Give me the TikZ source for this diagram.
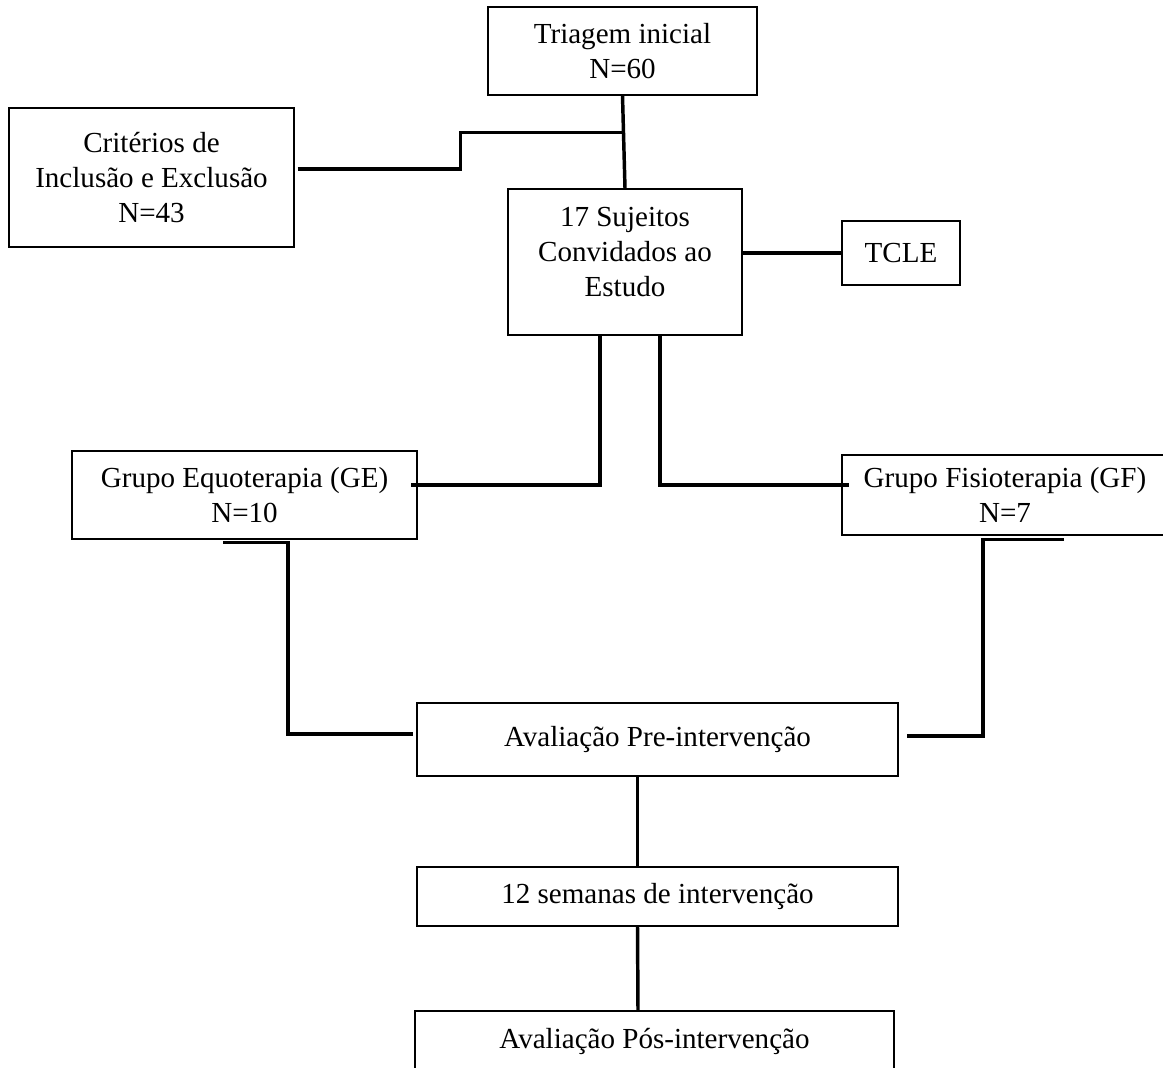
\documentclass[tikz,border=0pt]{standalone}
\usepackage{fontspec}
\setmainfont{Liberation Serif}
\usetikzlibrary{calc}

\begin{document}
\begin{tikzpicture}[x=0.75pt,y=-0.75pt,
        caixa/.style 2 args={draw,line width=0.9pt,align=center,inner sep=2pt,
            minimum width=#1*0.75pt,minimum height=#2*0.75pt,
            font=\fontsize{21.8}{26.2}\selectfont},
        liga/.style={line width=2.6pt}]
        % area da figura
        \useasboundingbox (0,0) rectangle (1163,1067);

        % caixas
        \node[caixa={269}{88}] (triagem) at (622.5,51) {Triagem inicial\\N=60};
        \node[caixa={285}{139}] (criterios) at (151.5,177.5) {Critérios de\\Inclusão e Exclusão\\N=43};
        \node[caixa={234}{146}] (sujeitos) at (625,262) {17 Sujeitos\\Convidados ao\\Estudo\\[-19pt]\strut};
        \node[caixa={118}{64}] (tcle) at (901,253) {TCLE};
        \node[caixa={345}{88}] (ge) at (244.5,495) {Grupo Equoterapia (GE)\\N=10};
        \node[caixa={326}{80}] (gf) at (1005,495) {Grupo Fisioterapia (GF)\\N=7};
        \node[caixa={481}{73}] (pre) at (657.5,739.5) {Avaliação Pre-intervenção};
        \node[caixa={481}{59}] (semanas) at (657.5,896.5) {12 semanas de intervenção};
        \node[caixa={479}{60}] (pos) at (654.5,1041) {Avaliação Pós-intervenção};

        % ligacoes
        \coordinate (juncao) at ($(triagem.south)!0.4!(sujeitos.north)$);
        \draw[liga] (triagem.south) -- (sujeitos.north);
        \draw[liga] ($(criterios.east)+(3,-8.5)$) -- ++(163,0) |- (juncao);
        \draw[liga] (tcle.west -| sujeitos.east) -- (tcle.west);
        \draw[liga] ($(sujeitos.south)+(-25,0)$) |- ($(ge.east)+(-7,-10)$);
        \draw[liga] ($(sujeitos.south)+(35,0)$) |- ($(gf.west)+(8,-10)$);
        \draw[liga] ($(ge.south)+(-21.5,3)$) -- ++(65,0) |- ($(pre.west)+(-3,-5.5)$);
        \draw[liga] ($(gf.south)+(59,4)$) -- ++(-81,0) |- ($(pre.east)+(8,-3.5)$);
        \draw[liga] ($(pre.south)+(-20,0)$) -- ($(semanas.north)+(-20,0)$);
        \draw[liga] ($(semanas.south)+(-20,0)$) -- ($(pos.north)+(-16.5,0)$);
\end{tikzpicture}
\end{document}
